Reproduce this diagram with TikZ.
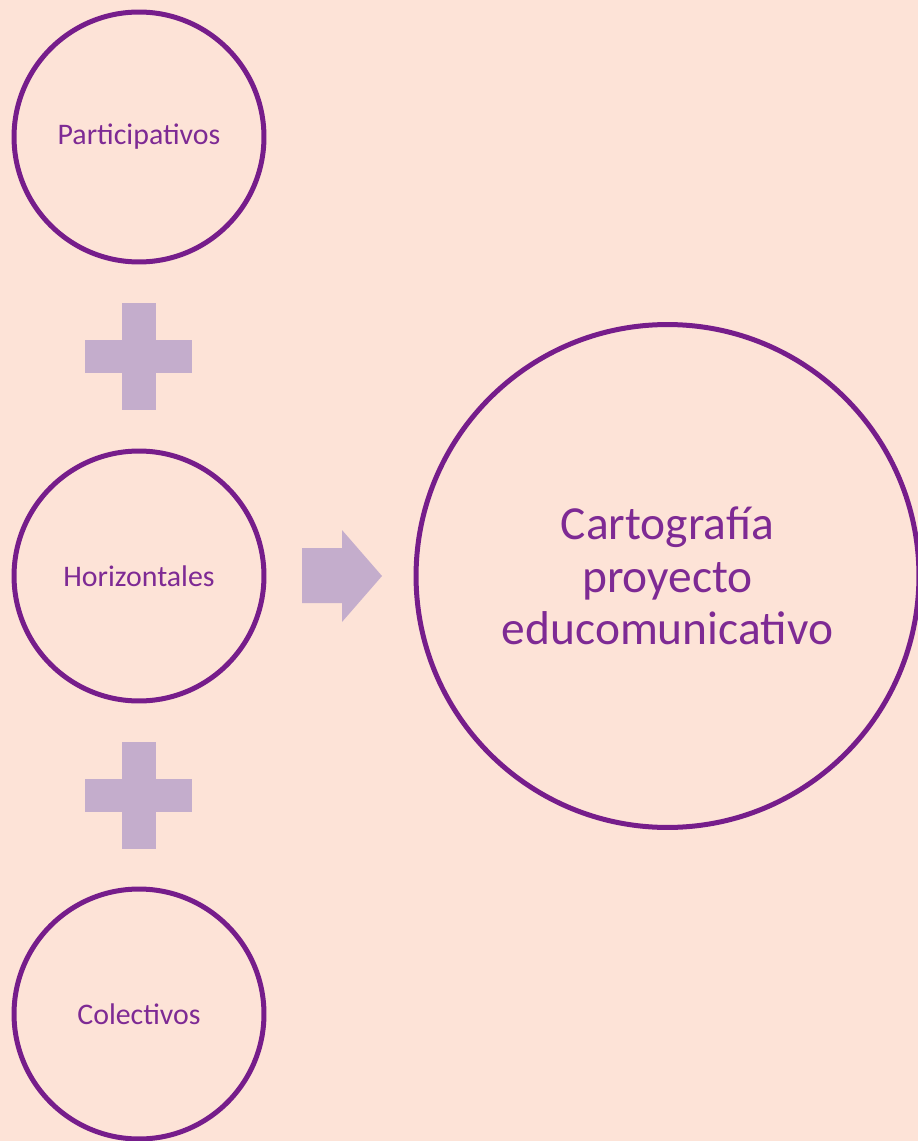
\documentclass[tikz,border=0pt]{standalone}
\usepackage{fontspec}
\setmainfont{Carlito}
\usepackage{xcolor}
\usepackage{tikz}
\usetikzlibrary{positioning}

\definecolor{peach}{HTML}{FDE3D7}
\definecolor{plum}{HTML}{761D8B}
\definecolor{plumtext}{HTML}{7E2A94}
\definecolor{lilac}{HTML}{C4ADCC}

\begin{document}
\begin{tikzpicture}[
        x = 0.02cm, y = -0.02cm, % pixel-like units
        small/.style = {circle, draw=plum, line width=0.1cm, text=plumtext,
            minimum size=5cm, font=\fontsize{17}{20}\selectfont},
        big/.style = {circle, draw=plum, line width=0.1cm, text=plumtext,
            minimum size=10.06cm, align=center, font=\fontsize{27}{30}\selectfont},
        block/.style = {fill=lilac},
    ]
        \path[use as bounding box, fill=peach] (0,0) rectangle (918,1141);

        % Draw the circles
        \foreach \pos/\name/\txt in {
            (139,137)/part/Participativos,
            (139,576)/hori/Horizontales,
            (139,1014)/cole/Colectivos} {
            \node[small] (\name) at \pos {\txt};
        }
        \node[big] (carto) at (667.5,576) {Cartografía\\proyecto\\educomunicativo};

        % Draw the plus signs
        \foreach \y in {356.5, 795.5} {
            \fill[block] (122,\y-53.5) rectangle (156,\y+53.5);
            \fill[block] (85,\y-16.5) rectangle (192,\y+16.5);
        }

        % Draw the arrow
        \fill[block] (302,548) -- (342,548) -- (342,530) -- (382,576)
            -- (342,622) -- (342,603) -- (302,603) -- cycle;
    \end{tikzpicture}
\end{document}
